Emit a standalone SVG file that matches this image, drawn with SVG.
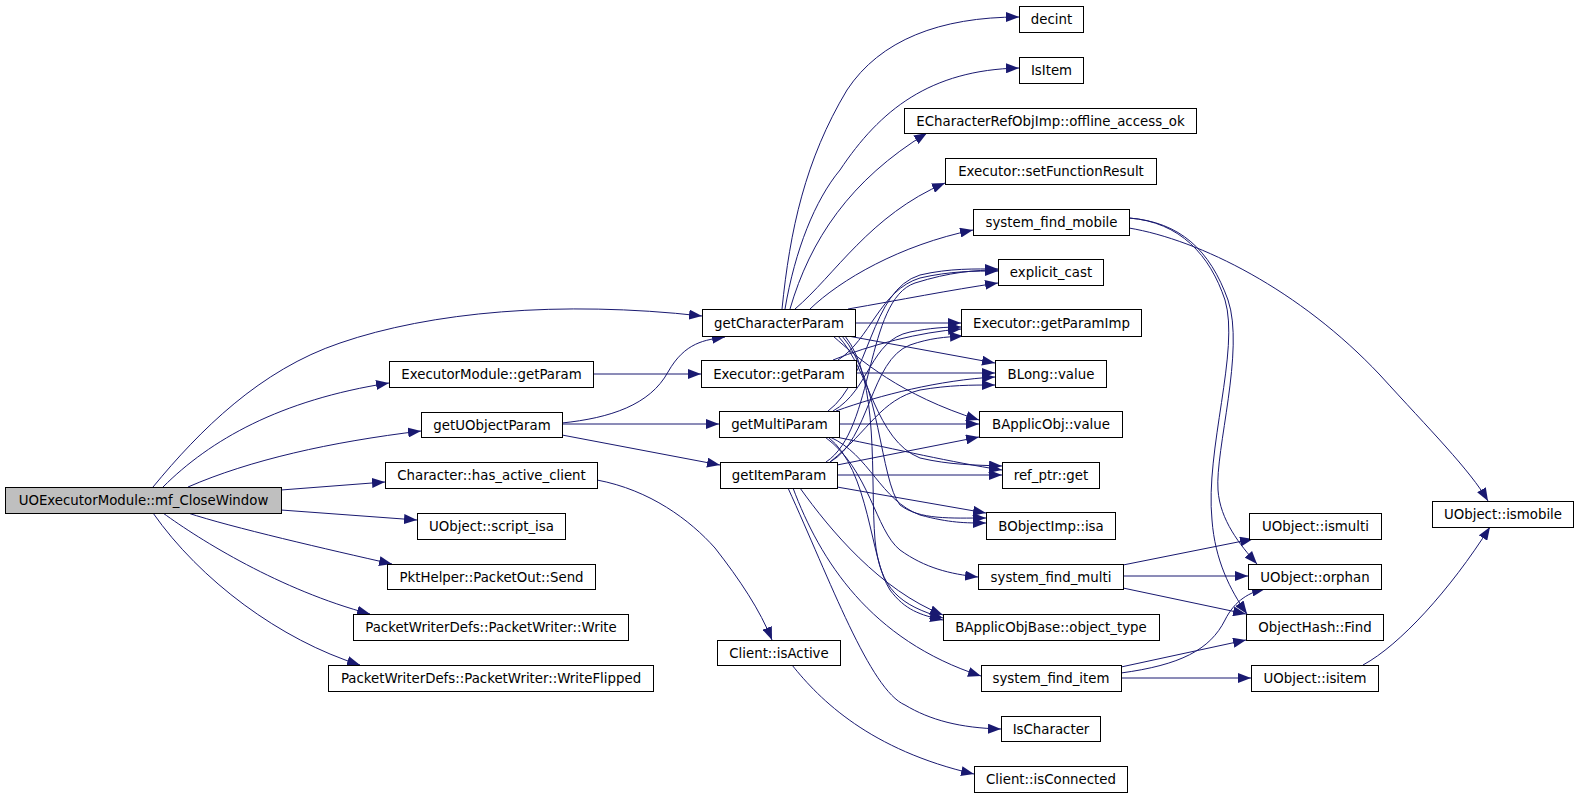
<svg xmlns="http://www.w3.org/2000/svg" width="1579" height="797" viewBox="0 0 1579 797">
<defs>
<marker id="ah" viewBox="0 0 13 10" refX="13" refY="5" markerWidth="13" markerHeight="10" markerUnits="userSpaceOnUse" orient="auto">
<path d="M0,0 L13,5 L0,10 z" fill="#191970"/>
</marker>
<style>
.n rect{fill:#fff;stroke:#000;stroke-width:1}
.n.root rect{fill:#bfbfbf}
.n text{font-family:"DejaVu Sans",sans-serif;font-size:13.33px;fill:#000;text-anchor:middle}
#edges path{fill:none;stroke:#191970;stroke-width:1;marker-end:url(#ah)}
</style>
</defs>
<rect width="1579" height="797" fill="#fff"/>
<g id="edges">
<path d="M153,487 C200,430 260,370 340,343 C430,312 560,300 702,316"/>
<path d="M163,487 C210,440 280,400 389,383"/>
<path d="M188,487 C250,460 330,442 421,431"/>
<path d="M281,490 L385,482"/>
<path d="M281,510 L417,520"/>
<path d="M188,513 C230,527 330,550 392,564"/>
<path d="M163,513 C200,540 280,590 370,614"/>
<path d="M153,513 C200,580 280,640 360,665"/>
<path d="M593,374 L701,374"/>
<path d="M562,423 C610,418 650,405 668,372 C685,342 705,340 725,337"/>
<path d="M562,424 L719,424"/>
<path d="M562,435 L720,465"/>
<path d="M597,480 C650,490 690,520 715,548 C740,580 760,610 772,640"/>
<path d="M792,665 C820,700 870,750 974,774"/>
<path d="M782,309 C790,230 805,160 847,90 C880,40 940,17 1019,17"/>
<path d="M785,309 C795,250 815,200 840,170 C880,110 930,70 1019,68"/>
<path d="M790,309 C810,240 850,180 927,133"/>
<path d="M795,309 C835,275 870,215 945,183"/>
<path d="M810,309 C840,280 900,245 973,230"/>
<path d="M848,309 C900,300 950,290 998,283"/>
<path d="M855,323 L961,323"/>
<path d="M848,336 L995,363"/>
<path d="M833,336 C860,360 900,395 979,420"/>
<path d="M838,336 C870,370 875,440 920,458 C950,465 975,465 1002,466"/>
<path d="M842,336 C880,380 880,480 900,505 C920,520 950,518 986,518"/>
<path d="M845,336 C880,380 870,480 875,540 C880,590 900,605 943,618"/>
<path d="M856,373 L995,373"/>
<path d="M833,360 C870,345 920,332 961,329"/>
<path d="M838,360 C870,340 880,290 920,278 C950,271 975,271 998,271"/>
<path d="M833,411 C870,390 870,340 910,332 C930,328 945,327 961,327"/>
<path d="M828,411 C870,380 870,290 920,275 C950,268 975,269 998,269"/>
<path d="M836,411 C880,395 940,380 995,377"/>
<path d="M839,424 L979,424"/>
<path d="M836,437 C900,450 950,462 1002,470"/>
<path d="M830,437 C870,455 880,500 920,515 C950,523 965,523 986,523"/>
<path d="M828,437 C870,470 870,560 890,590 C905,610 920,615 943,620"/>
<path d="M825,437 C870,470 875,530 900,550 C925,568 950,574 978,577"/>
<path d="M830,462 C870,440 870,360 910,345 C930,338 945,337 963,336"/>
<path d="M826,462 C875,430 865,300 915,283 C950,272 975,270 998,270"/>
<path d="M830,462 C870,430 880,400 920,390 C950,385 970,385 995,385"/>
<path d="M837,465 L979,437"/>
<path d="M837,475 L1002,475"/>
<path d="M837,487 L986,513"/>
<path d="M800,488 C830,530 880,590 943,615"/>
<path d="M793,488 C820,560 870,640 981,676"/>
<path d="M788,488 C830,580 870,690 905,705 C930,720 960,728 1001,729"/>
<path d="M1129,218 C1180,222 1210,250 1228,300 C1245,350 1215,450 1218,490 C1220,520 1240,545 1257,564"/>
<path d="M1129,218 C1180,222 1210,255 1225,300 C1240,350 1205,450 1212,520 C1215,560 1230,590 1247,614"/>
<path d="M1129,228 C1200,240 1300,290 1380,375 C1430,430 1470,470 1488,501"/>
<path d="M1123,565 L1253,539"/>
<path d="M1123,576 L1248,576"/>
<path d="M1123,588 L1246,614"/>
<path d="M1121,673 C1180,665 1210,650 1225,620 C1235,600 1250,592 1265,589"/>
<path d="M1121,667 L1246,640"/>
<path d="M1121,678 L1251,678"/>
<path d="M1363,665 C1400,645 1450,590 1490,527"/>
</g>
<g id="n0" class="n root"><rect x="5.5" y="487.5" width="276" height="26"/><text x="143.5" y="505">UOExecutorModule::mf_CloseWindow</text></g>
<g id="n1" class="n"><rect x="389.5" y="361.5" width="204" height="26"/><text x="491.5" y="379">ExecutorModule::getParam</text></g>
<g id="n2" class="n"><rect x="421.5" y="412.5" width="141" height="25"/><text x="492" y="429.5">getUObjectParam</text></g>
<g id="n3" class="n"><rect x="385.5" y="462.5" width="212" height="26"/><text x="491.5" y="480">Character::has_active_client</text></g>
<g id="n4" class="n"><rect x="417.5" y="513.5" width="148" height="26"/><text x="491.5" y="531">UObject::script_isa</text></g>
<g id="n5" class="n"><rect x="387.5" y="564.5" width="208" height="25"/><text x="491.5" y="581.5">PktHelper::PacketOut::Send</text></g>
<g id="n6" class="n"><rect x="353.5" y="614.5" width="275" height="26"/><text x="491" y="632">PacketWriterDefs::PacketWriter::Write</text></g>
<g id="n7" class="n"><rect x="328.5" y="665.5" width="325" height="26"/><text x="491" y="683">PacketWriterDefs::PacketWriter::WriteFlipped</text></g>
<g id="n8" class="n"><rect x="702.5" y="309.5" width="153" height="27"/><text x="779" y="327.5">getCharacterParam</text></g>
<g id="n9" class="n"><rect x="701.5" y="360.5" width="155" height="27"/><text x="779" y="378.5">Executor::getParam</text></g>
<g id="n10" class="n"><rect x="719.5" y="411.5" width="120" height="26"/><text x="779.5" y="429">getMultiParam</text></g>
<g id="n11" class="n"><rect x="720.5" y="462.5" width="117" height="26"/><text x="779" y="480">getItemParam</text></g>
<g id="n12" class="n"><rect x="717.5" y="640.5" width="123" height="25"/><text x="779" y="657.5">Client::isActive</text></g>
<g id="n13" class="n"><rect x="1019.5" y="6.5" width="64" height="26"/><text x="1051.5" y="24">decint</text></g>
<g id="n14" class="n"><rect x="1019.5" y="57.5" width="64" height="26"/><text x="1051.5" y="75">IsItem</text></g>
<g id="n15" class="n"><rect x="904.5" y="108.5" width="292" height="25"/><text x="1050.5" y="125.5">ECharacterRefObjImp::offline_access_ok</text></g>
<g id="n16" class="n"><rect x="945.5" y="158.5" width="211" height="26"/><text x="1051" y="176">Executor::setFunctionResult</text></g>
<g id="n17" class="n"><rect x="973.5" y="209.5" width="156" height="26"/><text x="1051.5" y="227">system_find_mobile</text></g>
<g id="n18" class="n"><rect x="998.5" y="259.5" width="105" height="26"/><text x="1051" y="277">explicit_cast</text></g>
<g id="n19" class="n"><rect x="961.5" y="309.5" width="180" height="27"/><text x="1051.5" y="327.5">Executor::getParamImp</text></g>
<g id="n20" class="n"><rect x="995.5" y="360.5" width="111" height="27"/><text x="1051" y="378.5">BLong::value</text></g>
<g id="n21" class="n"><rect x="979.5" y="411.5" width="143" height="26"/><text x="1051" y="429">BApplicObj::value</text></g>
<g id="n22" class="n"><rect x="1002.5" y="462.5" width="97" height="26"/><text x="1051" y="480">ref_ptr::get</text></g>
<g id="n23" class="n"><rect x="986.5" y="512.5" width="129" height="27"/><text x="1051" y="530.5">BObjectImp::isa</text></g>
<g id="n24" class="n"><rect x="978.5" y="564.5" width="145" height="25"/><text x="1051" y="581.5">system_find_multi</text></g>
<g id="n25" class="n"><rect x="943.5" y="614.5" width="216" height="26"/><text x="1051" y="632">BApplicObjBase::object_type</text></g>
<g id="n26" class="n"><rect x="981.5" y="665.5" width="140" height="26"/><text x="1051" y="683">system_find_item</text></g>
<g id="n27" class="n"><rect x="1001.5" y="716.5" width="99" height="25"/><text x="1051" y="733.5">IsCharacter</text></g>
<g id="n28" class="n"><rect x="974.5" y="766.5" width="153" height="26"/><text x="1051" y="784">Client::isConnected</text></g>
<g id="n29" class="n"><rect x="1432.5" y="501.5" width="141" height="26"/><text x="1503" y="519">UObject::ismobile</text></g>
<g id="n30" class="n"><rect x="1249.5" y="513.5" width="132" height="26"/><text x="1315.5" y="531">UObject::ismulti</text></g>
<g id="n31" class="n"><rect x="1248.5" y="564.5" width="133" height="25"/><text x="1315" y="581.5">UObject::orphan</text></g>
<g id="n32" class="n"><rect x="1246.5" y="614.5" width="137" height="26"/><text x="1315" y="632">ObjectHash::Find</text></g>
<g id="n33" class="n"><rect x="1251.5" y="665.5" width="127" height="26"/><text x="1315" y="683">UObject::isitem</text></g>
</svg>
